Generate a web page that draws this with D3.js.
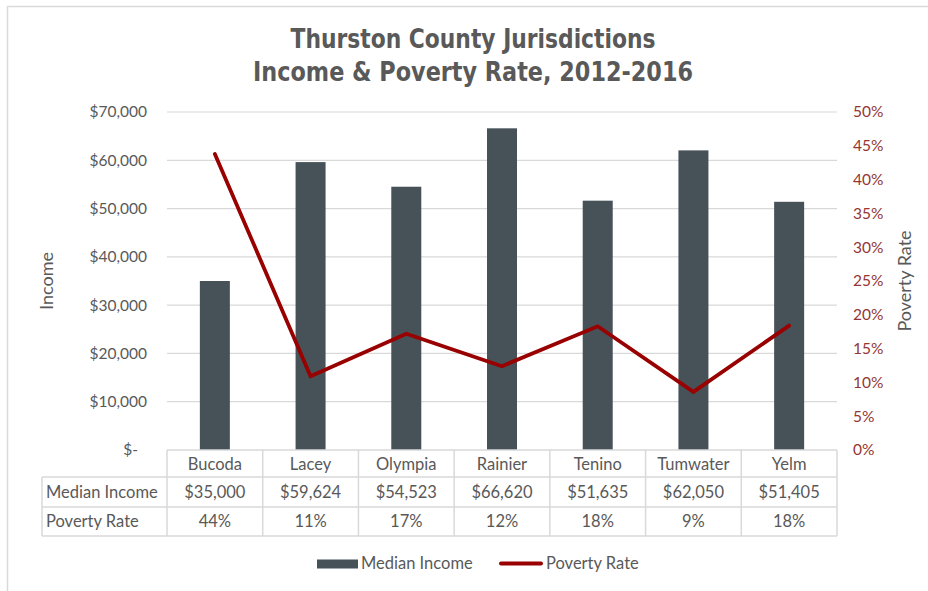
<!DOCTYPE html>
<html>
<head>
<meta charset="utf-8">
<script src="https://cdn.jsdelivr.net/npm/d3@7"></script>
<style>
  html, body { margin: 0; padding: 0; background: #fff; }
  svg { display: block; }
  text { font-family: Lato, "Open Sans", sans-serif; fill: #595959; }
</style>
</head>
<body>
<svg id="chart" width="928" height="591"></svg>
<script>
// ---- data ----
const categories = ["Bucoda", "Lacey", "Olympia", "Rainier", "Tenino", "Tumwater", "Yelm"];
const medianIncome = [35000, 59624, 54523, 66620, 51635, 62050, 51405];
const povertyRate = [0.438, 0.109, 0.172, 0.124, 0.183, 0.086, 0.184];
const incomeTicks = [0, 10000, 20000, 30000, 40000, 50000, 60000, 70000];
const rateTicks = [0, 0.05, 0.10, 0.15, 0.20, 0.25, 0.30, 0.35, 0.40, 0.45, 0.50];
const titleLines = ["Thurston County Jurisdictions", "Income & Poverty Rate, 2012-2016"];
const seriesNames = ["Median Income", "Poverty Rate"];

(function () {
// ---- styles ----
const barColor = "#465158";
const lineColor = "#990000";
const axisRed = "#943634";
const gridColor = "#d9d9d9";
const textColor = "#595959";

const svg = d3.select("#chart");

// frame
svg.append("path")
  .attr("d", "M7.5,591 L7.5,6.5 L928,6.5")
  .attr("fill", "none").attr("stroke", gridColor).attr("stroke-width", 1.5);

// title
const titleWidths = [365, 440];
svg.selectAll("text.title").data(titleLines).join("text")
  .attr("class", "title")
  .attr("x", 473)
  .attr("y", (d, i) => 48 + i * 33)
  .attr("text-anchor", "middle")
  .attr("textLength", (d, i) => titleWidths[i])
  .attr("lengthAdjust", "spacingAndGlyphs")
  .style("font-family", "'Liberation Sans Narrow', 'DejaVu Sans Condensed', Roboto, sans-serif")
  .style("font-weight", "bold")
  .style("font-size", "27px")
  .style("fill", textColor)
  .text(d => d);

// scales
const pLeft = 167, pRight = 837, pTop = 112, pBottom = 450;
const xt = d3.scaleBand().domain(categories).range([pLeft, pRight]).padding(0);
const x = d3.scaleBand().domain(categories).range([pLeft, pRight]).paddingInner(0.6866).paddingOuter(0.3433);
const y = d3.scaleLinear().domain([0, 70000]).range([pBottom, pTop]);
const y2 = d3.scaleLinear().domain([0, 0.5]).range([pBottom, pTop]);

// gridlines
svg.append("g").selectAll("line").data(incomeTicks.filter(d => d > 0)).join("line")
  .attr("x1", pLeft).attr("x2", pRight)
  .attr("y1", d => y(d)).attr("y2", d => y(d))
  .attr("stroke", gridColor).attr("stroke-width", 1.2);

// left axis
const fmtIncome = d => d === 0 ? "$-" : "$" + d3.format(",")(d);
const gL = svg.append("g").attr("transform", `translate(${pLeft},0)`)
  .call(d3.axisLeft(y).tickValues(incomeTicks).tickFormat(fmtIncome).tickSize(0).tickPadding(20));
gL.select(".domain").remove();
gL.selectAll("text").style("font-size", "15.5px").style("fill", textColor).style("font-family", "Lato, sans-serif");
gL.selectAll("text").filter(d => d === 0).attr("dx", -9);

// right axis
const gR = svg.append("g").attr("transform", `translate(${pRight},0)`)
  .call(d3.axisRight(y2).tickValues(rateTicks).tickFormat(d3.format(".0%")).tickSize(0).tickPadding(16));
gR.select(".domain").remove();
gR.selectAll("text").style("font-size", "15.5px").style("fill", axisRed).style("font-family", "Lato, sans-serif");

// axis titles
svg.append("text")
  .attr("transform", "translate(53,281) rotate(-90)")
  .attr("text-anchor", "middle")
  .style("font-size", "18px")
  .text("Income");
svg.append("text")
  .attr("transform", "translate(911,281) rotate(-90)")
  .attr("text-anchor", "middle")
  .style("font-size", "18px")
  .text("Poverty Rate");

// bars
svg.append("g").selectAll("rect").data(categories).join("rect")
  .attr("x", d => x(d))
  .attr("width", x.bandwidth())
  .attr("y", (d, i) => y(medianIncome[i]))
  .attr("height", (d, i) => y(0) - y(medianIncome[i]))
  .attr("fill", barColor);

// line
const line = d3.line()
  .x((d, i) => xt(categories[i]) + xt.bandwidth() / 2)
  .y(d => y2(d));
svg.append("path")
  .datum(povertyRate)
  .attr("d", line)
  .attr("fill", "none")
  .attr("stroke", lineColor)
  .attr("stroke-width", 3.8)
  .attr("stroke-linejoin", "miter")
  .attr("stroke-linecap", "round");

// data table
const rowTops = [450, 477, 507, 536];
const labelLeft = 42;
const tbl = svg.append("g");
const bc = gridColor;
tbl.append("line").attr("x1", pLeft).attr("x2", pRight).attr("y1", rowTops[0]).attr("y2", rowTops[0]).attr("stroke", bc).attr("stroke-width", 1.5);
[rowTops[1], rowTops[2], rowTops[3]].forEach(yy => {
  tbl.append("line").attr("x1", labelLeft).attr("x2", pRight).attr("y1", yy).attr("y2", yy).attr("stroke", bc).attr("stroke-width", 1.5);
});
categories.forEach(c => {
  tbl.append("line").attr("x1", xt(c)).attr("x2", xt(c)).attr("y1", rowTops[0]).attr("y2", rowTops[3]).attr("stroke", bc).attr("stroke-width", 1.5);
});
tbl.append("line").attr("x1", pRight).attr("x2", pRight).attr("y1", rowTops[0]).attr("y2", rowTops[3]).attr("stroke", bc).attr("stroke-width", 1.5);
tbl.append("line").attr("x1", labelLeft).attr("x2", labelLeft).attr("y1", rowTops[1]).attr("y2", rowTops[3]).attr("stroke", bc).attr("stroke-width", 1.5);

const cellFont = "16.5px";
tbl.selectAll("text.hdr").data(categories).join("text")
  .attr("class", "hdr")
  .attr("x", d => xt(d) + xt.bandwidth() / 2)
  .attr("y", 470)
  .attr("text-anchor", "middle")
  .style("font-size", cellFont)
  .text(d => d);
tbl.selectAll("text.rl").data(seriesNames).join("text")
  .attr("class", "rl")
  .attr("x", 46)
  .attr("y", (d, i) => [498, 527][i])
  .style("font-size", cellFont)
  .text(d => d);
tbl.selectAll("text.inc").data(medianIncome).join("text")
  .attr("class", "inc")
  .attr("x", (d, i) => xt(categories[i]) + xt.bandwidth() / 2)
  .attr("y", 498)
  .attr("text-anchor", "middle")
  .style("font-size", cellFont)
  .text(d => "$" + d3.format(",")(d));
tbl.selectAll("text.pov").data(povertyRate).join("text")
  .attr("class", "pov")
  .attr("x", (d, i) => xt(categories[i]) + xt.bandwidth() / 2)
  .attr("y", 527)
  .attr("text-anchor", "middle")
  .style("font-size", cellFont)
  .text(d => d3.format(".0%")(d));

// legend
const lg = svg.append("g");
lg.append("rect").attr("x", 317).attr("y", 559.5).attr("width", 41).attr("height", 9).attr("fill", barColor);
lg.append("text").attr("x", 361).attr("y", 569).style("font-size", cellFont).text(seriesNames[0]);
lg.append("line").attr("x1", 501).attr("x2", 541).attr("y1", 563.5).attr("y2", 563.5)
  .attr("stroke", lineColor).attr("stroke-width", 4).attr("stroke-linecap", "round");
lg.append("text").attr("x", 546).attr("y", 569).style("font-size", cellFont).text(seriesNames[1]);
})();
</script>
</body>
</html>
